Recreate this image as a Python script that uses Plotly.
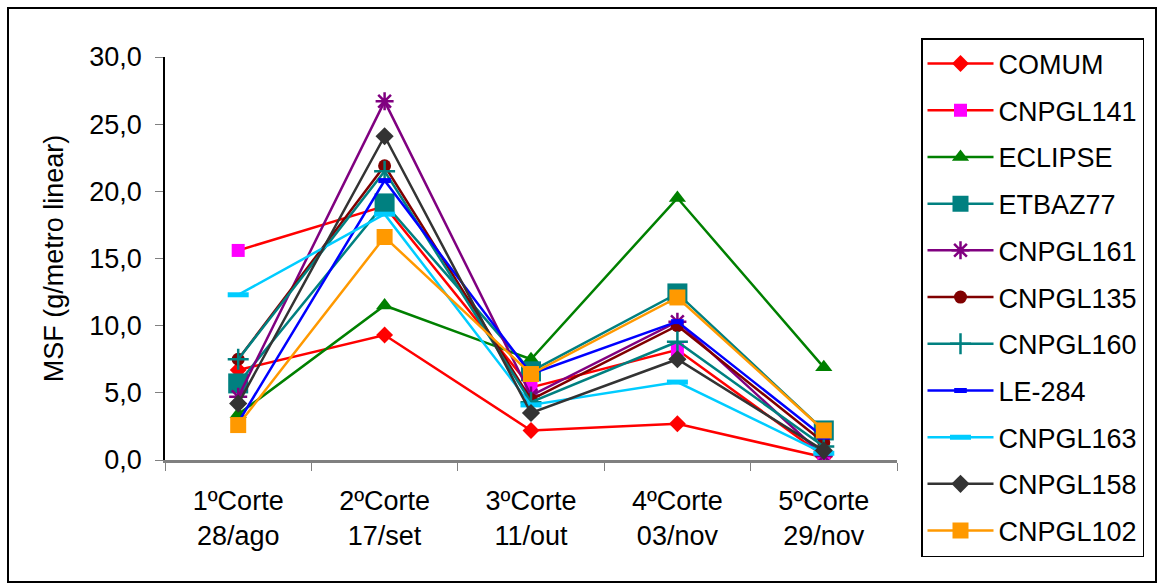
import plotly.graph_objects as go

categories = ["1ºCorte<br>28/ago", "2ºCorte<br>17/set", "3ºCorte<br>11/out", "4ºCorte<br>03/nov", "5ºCorte<br>29/nov"]
series_names = ["COMUM", "CNPGL141", "ECLIPSE", "ETBAZ77", "CNPGL161", "CNPGL135",
                "CNPGL160", "LE-284", "CNPGL163", "CNPGL158", "CNPGL102"]
comum = [6.7, 9.3, 2.2, 2.7, 0.2]
cnpgl141 = [15.6, 18.9, 5.4, 8.2, 0.3]
eclipse = [3.4, 11.5, 7.5, 19.5, 6.9]
etbaz77 = [5.7, 19.1, 6.6, 12.4, 2.2]
cnpgl161 = [4.7, 26.7, 4.8, 10.3, 0.3]
cnpgl135 = [7.5, 21.9, 4.5, 10.0, 1.3]
cnpgl160 = [7.5, 21.5, 4.3, 8.8, 1.0]
le284 = [2.8, 20.8, 6.4, 10.3, 1.7]
cnpgl163 = [12.3, 18.3, 4.1, 5.8, 0.5]
cnpgl158 = [4.2, 24.1, 3.5, 7.5, 0.7]
cnpgl102 = [2.6, 16.6, 6.4, 12.1, 2.2]
values = [comum, cnpgl141, eclipse, etbaz77, cnpgl161, cnpgl135,
          cnpgl160, le284, cnpgl163, cnpgl158, cnpgl102]

styles = [
    dict(line="#FF0000", mcolor="#FF0000", symbol="diamond", size=13, lw=0),
    dict(line="#FF0000", mcolor="#FF00FF", symbol="square", size=13, lw=0),
    dict(line="#008000", mcolor="#008000", symbol="triangle-up", size=15, lw=0),
    dict(line="#008080", mcolor="#008080", symbol="square", size=20, lw=0),
    dict(line="#800080", mcolor="#800080", symbol="asterisk-open", size=15, lw=2.5),
    dict(line="#800000", mcolor="#800000", symbol="circle", size=13, lw=0),
    dict(line="#008080", mcolor="#008080", symbol="cross-thin-open", size=15, lw=2.5),
    dict(line="#0000FF", mcolor="#0000FF", symbol="line-ew-open", size=9, lw=5),
    dict(line="#00CCFF", mcolor="#00CCFF", symbol="line-ew-open", size=15, lw=5),
    dict(line="#333333", mcolor="#333333", symbol="diamond", size=14, lw=0),
    dict(line="#FF9900", mcolor="#FF9900", symbol="square", size=16, lw=0),
]

fig = go.Figure()
for name, vals, st in zip(series_names, values, styles):
    fig.add_trace(go.Scatter(
        x=categories, y=vals, name=name, mode="lines+markers",
        legendgroup=name,
        line=dict(color=st["line"], width=2.5),
        marker=dict(symbol=st["symbol"], size=st["size"], color=st["mcolor"],
                    line=dict(color=st["mcolor"], width=st["lw"])),
    ))

L, R, T, B = 165, 897, 57, 460
W, H = 1161, 584
pw, ph = R - L, B - T

def px(x):
    return (x - L) / pw

def py(y):
    return (B - y) / ph

FS = 27

fig.update_layout(
    width=W, height=H,
    margin=dict(l=L, r=W - R, t=T, b=H - B, pad=0),
    paper_bgcolor="white", plot_bgcolor="white",
    font=dict(family="Liberation Sans, Arial, sans-serif", size=FS, color="black"),
    separators=",.",
    showlegend=True,
    legend=dict(x=px(921), y=py(38), xanchor="left", yanchor="top",
                bordercolor="black", borderwidth=1.5, bgcolor="white",
                font=dict(size=FS), traceorder="grouped", tracegroupgap=8.6,
                itemwidth=66, maxheight=570),
    xaxis=dict(type="category", tickson="boundaries", ticks="outside", ticklen=8,
               tickcolor="#808080", showline=True, linecolor="#808080", linewidth=2.5,
               showgrid=False, zeroline=False, range=[-0.5, 4.5],
               tickfont=dict(size=FS), ticklabelstandoff=15),
    yaxis=dict(range=[0, 30], dtick=5, tickformat=".1f", ticks="outside", ticklen=8,
               tickcolor="#808080", showline=True, linecolor="black", linewidth=1.5,
               showgrid=False, zeroline=False, tickfont=dict(size=FS),
               ticklabelstandoff=8,
               title=dict(text="MSF (g/metro linear)", font=dict(size=FS), standoff=18)),
    shapes=[dict(type="rect", xref="paper", yref="paper",
                 x0=px(8), x1=px(1156), y0=py(582), y1=py(8),
                 line=dict(color="black", width=2), fillcolor="rgba(0,0,0,0)",
                 layer="below")],
)

fig.write_html("out.html")
